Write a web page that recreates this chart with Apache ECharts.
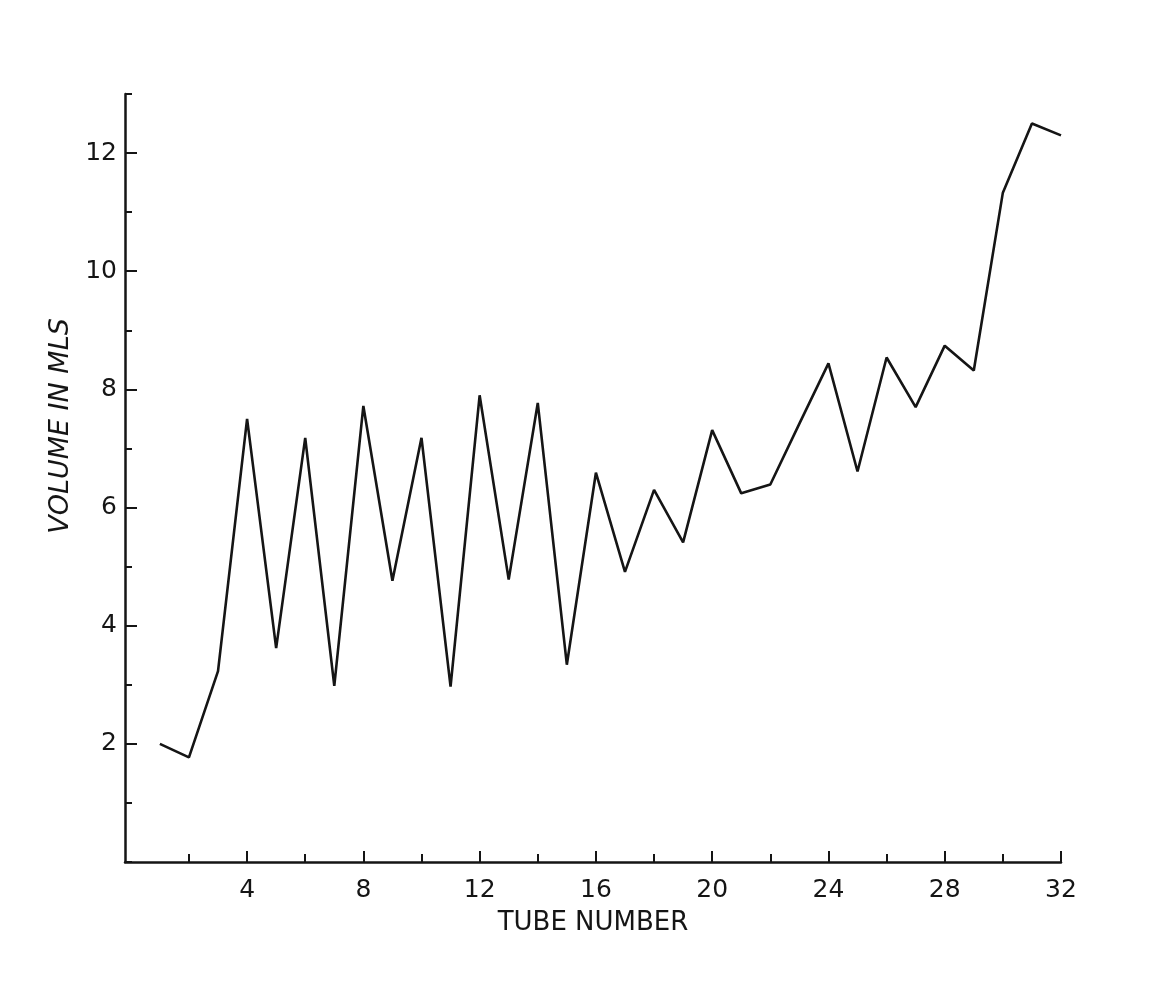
<!DOCTYPE html>
<html>
<head>
<meta charset="utf-8">
<script src="https://cdn.jsdelivr.net/npm/echarts@6/dist/echarts.min.js"></script>
<style>
html,body{margin:0;padding:0;background:#ffffff;}
#c{width:1165px;height:988px;}
</style>
</head>
<body>
<div id="c"></div>
<script>
// Data
const tubeNumbers = [1,2,3,4,5,6,7,8,9,10,11,12,13,14,15,16,17,18,19,20,21,22,23,24,25,26,27,28,29,30,31,32];
const volumes = [2.0,1.77,3.23,7.5,3.62,7.18,2.98,7.72,4.76,7.18,2.97,7.9,4.78,7.77,3.34,6.59,4.91,6.3,5.41,7.31,6.24,6.39,7.42,8.44,6.61,8.54,7.7,8.74,8.32,11.33,12.5,12.3];
const xMinorTicks = [2,6,10,14,18,22,26,30];
const xMajorTicks = [4,8,12,16,20,24,28,32];
const yMajorTicks = [2,4,6,8,10,12];
const xTitle = 'TUBE NUMBER';
const yTitle = 'VOLUME IN MLS';

const ink = '#151515';
const font = 'DejaVu Sans';

const chart = echarts.init(document.getElementById('c'), null, {renderer:'canvas'});
chart.setOption({
  backgroundColor: '#ffffff',
  animation: false,
  grid: {left:125, right:104, top:94, bottom:126, containLabel:false},
  xAxis: [
    {
      type:'value', min:-0.2, max:32, position:'bottom',
      axisLine:{show:true, onZero:false, lineStyle:{color:ink, width:2.5}},
      axisTick:{show:true, inside:true, length:8, customValues:xMinorTicks, lineStyle:{color:ink, width:2}},
      axisLabel:{show:false},
      splitLine:{show:false}
    },
    {
      type:'value', min:-0.2, max:32, position:'bottom',
      axisLine:{show:false, onZero:false},
      axisTick:{show:true, inside:true, length:11, customValues:xMajorTicks, lineStyle:{color:ink, width:2}},
      axisLabel:{show:true, customValues:xMajorTicks, margin:16, color:ink, fontFamily:font, fontSize:25},
      splitLine:{show:false},
      name:xTitle, nameLocation:'middle', nameGap:48,
      nameTextStyle:{color:ink, fontFamily:font, fontSize:26}
    }
  ],
  yAxis: [
    {
      type:'value', min:0, max:13, interval:1, position:'left',
      axisLine:{show:true, onZero:false, lineStyle:{color:ink, width:2.5}},
      axisTick:{show:true, inside:true, length:7, lineStyle:{color:ink, width:2}},
      axisLabel:{show:false},
      splitLine:{show:false}
    },
    {
      type:'value', min:0, max:13, position:'left',
      axisLine:{show:false, onZero:false},
      axisTick:{show:true, inside:true, length:12, customValues:yMajorTicks, lineStyle:{color:ink, width:2}},
      axisLabel:{show:true, customValues:yMajorTicks, margin:8, color:ink, fontFamily:font, fontSize:25},
      splitLine:{show:false},
      name:yTitle, nameLocation:'middle', nameGap:34, nameRotate:90,
      nameTextStyle:{color:ink, fontFamily:font, fontSize:27, fontStyle:'italic', padding:[0,0,0,104]}
    }
  ],
  series: [{
    type:'line',
    xAxisIndex:0, yAxisIndex:0,
    data: tubeNumbers.map((t,i)=>[t, volumes[i]]),
    showSymbol:false, symbol:'none',
    lineStyle:{color:ink, width:2.6},
    itemStyle:{color:ink}
  }]
});
</script>
</body>
</html>
